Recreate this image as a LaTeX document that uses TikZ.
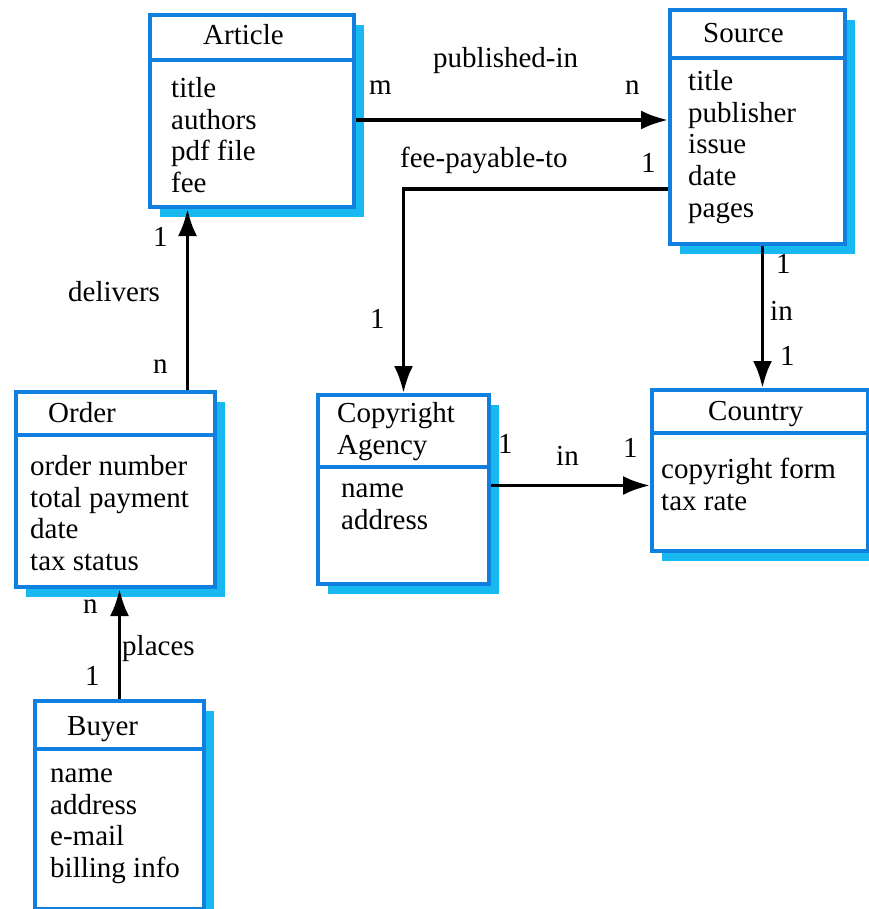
\documentclass[tikz,border=0pt]{standalone}
\usepackage{fontspec}
\setmainfont{Liberation Serif}
\newfontfamily\erfont{Liberation Serif}
\usetikzlibrary{positioning,arrows.meta,shadows}
\definecolor{boxblue}{RGB}{16,128,224}
\definecolor{boxshade}{RGB}{24,184,240}
\tikzset{
    erdiag/.style={
        x=1pt, y=-1pt,
        font=\erfont\fontsize{29}{31.7}\selectfont,
        % riquadro di una classe
        classbox/.style={draw=boxblue, line width=4pt, fill=white,
                         rectangle, anchor=north west, inner sep=0pt,
                         drop shadow={shadow xshift=10pt, shadow yshift=-10pt,
                                      fill=boxshade, opacity=1}},
        divline/.style={draw=boxblue, line width=4pt},
        % testo nei riquadri
        classname/.style={anchor=base west, inner sep=0pt},
        attrs/.style={anchor=north west, inner sep=0pt, align=left},
        % etichette delle relazioni
        lbl/.style={anchor=base west, inner sep=0pt},
        rel/.style={draw, line width=3.6pt, arrows={-Latex[length=27pt 0, width=19pt 0]}}
    }
}

\begin{document}
\begin{tikzpicture}[erdiag]
  \useasboundingbox (0,0) rectangle (868,909);

  % Riquadri
  \node[classbox, minimum width=204pt, minimum height=192pt] (article) at (148,13) {};
  \node[classbox, minimum width=175pt, minimum height=234pt] (source) at (668,8) {};
  \node[classbox, minimum width=199pt, minimum height=195pt] (order) at (14,390) {};
  \node[classbox, minimum width=171pt, minimum height=189pt] (agency) at (316,393) {};
  \node[classbox, minimum width=216pt, minimum height=161pt] (country) at (650,388) {};
  \node[classbox, minimum width=169pt, minimum height=208pt] (buyer) at (33,699) {};

  \draw[divline] ([yshift=-47pt]article.north west) -- ([yshift=-47pt]article.north east);
  \draw[divline] ([yshift=-50pt]source.north west) -- ([yshift=-50pt]source.north east);
  \draw[divline] ([yshift=-45pt]order.north west) -- ([yshift=-45pt]order.north east);
  \draw[divline] ([yshift=-74pt]agency.north west) -- ([yshift=-74pt]agency.north east);
  \draw[divline] ([yshift=-45pt]country.north west) -- ([yshift=-45pt]country.north east);
  \draw[divline] ([yshift=-50pt]buyer.north west) -- ([yshift=-50pt]buyer.north east);

  % Nomi e attributi
  \node[classname] (article-name) at (203,45) {Article};
  \node[attrs] (article-attrs) at (171,75) {\strut title\\authors\\pdf file\\fee};
  \node[classname] (source-name) at (703,43) {Source};
  \node[attrs] (source-attrs) at (688,68) {\strut title\\publisher\\issue\\date\\pages};
  \node[classname] (order-name) at (48,422) {Order};
  \node[attrs] (order-attrs) at (30,453) {\strut order number\\total payment\\date\\tax status};
  \node[attrs] (agency-name) at (337,400) {\strut Copyright\\Agency};
  \node[attrs] (agency-attrs) at (341,475) {\strut name\\address};
  \node[classname] (country-name) at (708,420) {Country};
  \node[attrs] (country-attrs) at (661,456) {\strut copyright form\\tax rate};
  \node[classname] (buyer-name) at (67,735) {Buyer};
  \node[attrs] (buyer-attrs) at (50,760) {\strut name\\address\\e-mail\\billing info};

  % Relazioni
  \draw[rel] ([yshift=-9pt]article.east) -- ([yshift=-9pt]article.east -| source.west);
  \draw[rel] ([yshift=-62pt]source.west) -| (agency.north);
  \draw[rel] ([xshift=72pt]order.north) -- ([xshift=72pt]order.north |- article.south);
  \draw[rel] (buyer.north) -- (buyer.north |- order.south);
  \draw[rel] ([xshift=5pt]source.south) -- ([xshift=5pt]source.south |- country.north);
  \draw[rel] ([yshift=4pt]agency.east) -- ([yshift=4pt]agency.east -| country.west);

  \node[lbl] (pub-in) at (433,68) {published-in};
  \node[lbl] (pub-m) at (369,95) {m};
  \node[lbl] (pub-n) at (625,95) {n};
  \node[lbl] (fee) at (400,168) {fee-payable-to};
  \node[lbl] (fee-src) at (641,173) {1};
  \node[lbl] (fee-agency) at (370,328) {1};
  \node[lbl] (ag-one) at (498,453) {1};
  \node[lbl] (ag-in) at (556,465) {in};
  \node[lbl] (ag-country) at (623,457) {1};
  \node[lbl] (src-one) at (776,273) {1};
  \node[lbl] (src-in) at (770,320) {in};
  \node[lbl] (src-country) at (780,365) {1};
  \node[lbl] (del-one) at (153,247) {1};
  \node[lbl] (delivers) at (68,301) {delivers};
  \node[lbl] (del-n) at (153,373) {n};
  \node[lbl] (pl-n) at (83,613) {n};
  \node[lbl] (places) at (122,655) {places};
  \node[lbl] (pl-one) at (85,685) {1};
\end{tikzpicture}
\end{document}
